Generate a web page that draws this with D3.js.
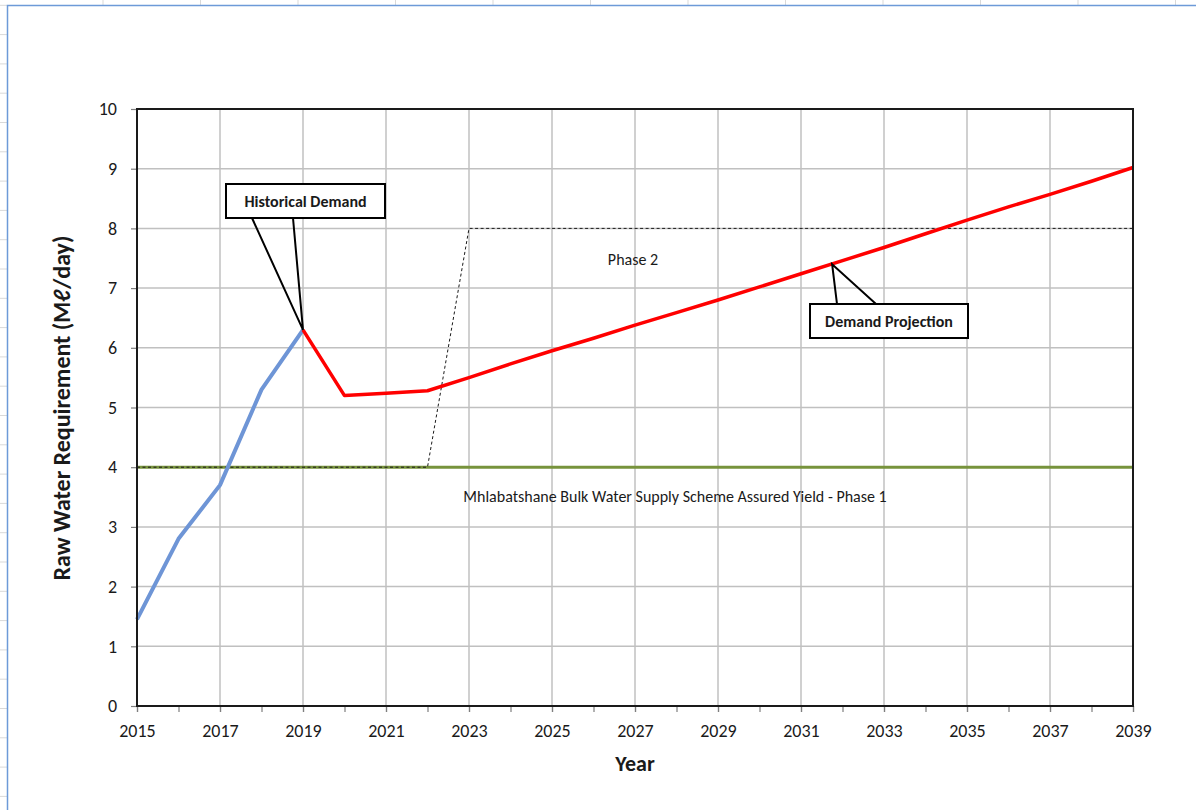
<!DOCTYPE html>
<html>
<head>
<meta charset="utf-8">
<script src="https://cdn.jsdelivr.net/npm/d3@7/dist/d3.min.js"></script>
<style>
  body { margin: 0; background: #fff; }
  svg text { font-family: Calibri, Carlito, "Open Sans", "Liberation Sans", sans-serif; }
</style>
</head>
<body>
<svg id="chart" width="1196" height="810"></svg>
<script>
// ---------- data ----------
const historicalYears = [2015, 2016, 2017, 2018, 2019];
const historicalDemand = [1.45, 2.8, 3.7, 5.3, 6.3];

const projectionYears = [2019, 2020, 2021, 2022, 2023, 2024, 2025, 2026, 2027, 2028, 2029, 2030, 2031, 2032, 2033, 2034, 2035, 2036, 2037, 2038, 2039];
const projectionDemand = [6.3, 5.2, 5.24, 5.28, 5.5, 5.73, 5.95, 6.16, 6.38, 6.59, 6.8, 7.02, 7.24, 7.46, 7.68, 7.91, 8.14, 8.36, 8.57, 8.79, 9.02];

const phase1Years = [2015, 2039];
const phase1Yield = [4, 4];

const capacityYears = [2015, 2022, 2023, 2039];
const capacityValues = [4, 4, 8, 8];

const xTickLabels = ["2015", "2017", "2019", "2021", "2023", "2025", "2027", "2029", "2031", "2033", "2035", "2037", "2039"];
const yTickLabels = ["0", "1", "2", "3", "4", "5", "6", "7", "8", "9", "10"];

// ---------- layout ----------
const svg = d3.select("#chart");
const W = 1196, H = 810;
const plot = { left: 137, right: 1133, top: 109, bottom: 706 };

// spreadsheet background
const bg = svg.append("g");
const rowYs = d3.range(-24, H, 29.3);
bg.selectAll("line.row").data(rowYs).join("line")
  .attr("x1", 0).attr("x2", 7).attr("y1", d => d).attr("y2", d => d)
  .attr("stroke", "#d9d9d9").attr("stroke-width", 1);
const colXs = d3.range(103, W, 97.5);
bg.selectAll("line.col").data(colXs).join("line")
  .attr("x1", d => d).attr("x2", d => d).attr("y1", 0).attr("y2", 5)
  .attr("stroke", "#d9d9d9").attr("stroke-width", 1);
// chart area border
svg.append("path")
  .attr("d", `M7.5,${H} V5.5 H${W}`)
  .attr("fill", "none").attr("stroke", "#6d9ad8").attr("stroke-width", 1.5);

const x = d3.scaleLinear().domain([2015, 2039]).range([plot.left, plot.right]);
const y = d3.scaleLinear().domain([0, 10]).range([plot.bottom, plot.top]);

// gridlines
const grid = svg.append("g");
grid.selectAll("line.vg").data(xTickLabels.map(Number)).join("line")
  .attr("x1", d => x(d)).attr("x2", d => x(d))
  .attr("y1", plot.top).attr("y2", plot.bottom)
  .attr("stroke", "#c0c0c0").attr("stroke-width", 1.5);
grid.selectAll("line.hg").data(yTickLabels.map(Number)).join("line")
  .attr("x1", plot.left).attr("x2", plot.right)
  .attr("y1", d => y(d)).attr("y2", d => y(d))
  .attr("stroke", "#c0c0c0").attr("stroke-width", 1.5);

// axes
const xAxisMinor = d3.axisBottom(x).tickValues(d3.range(2015, 2040)).tickSize(6).tickFormat("");
const xAxis = d3.axisBottom(x).tickValues(xTickLabels.map(Number)).tickSize(6).tickPadding(12).tickFormat((d, i) => xTickLabels[i]);
const yAxis = d3.axisLeft(y).tickValues(yTickLabels.map(Number)).tickSize(6).tickPadding(14).tickFormat((d, i) => yTickLabels[i]);

function styleAxis(g) {
  g.select(".domain").remove();
  g.selectAll(".tick line").attr("stroke", "#7f7f7f").attr("stroke-width", 1.2);
  g.selectAll(".tick text").attr("font-size", 18).attr("fill", "#1a1a1a");
}
svg.append("g").attr("transform", `translate(0,${plot.bottom})`).call(xAxisMinor).call(styleAxis);
svg.append("g").attr("transform", `translate(0,${plot.bottom})`).call(xAxis).call(styleAxis);
svg.append("g").attr("transform", `translate(${plot.left},0)`).call(yAxis).call(styleAxis);

// series
const line = d3.line().x(d => x(d[0])).y(d => y(d[1]));

svg.append("path")
  .datum(phase1Years.map((d, i) => [d, phase1Yield[i]]))
  .attr("d", line).attr("fill", "none").attr("stroke", "#77933c").attr("stroke-width", 3);

svg.append("path")
  .datum(capacityYears.map((d, i) => [d, capacityValues[i]]))
  .attr("d", line).attr("fill", "none").attr("stroke", "#1a1a1a").attr("stroke-width", 1)
  .attr("stroke-dasharray", "3,2.5");

svg.append("path")
  .datum(historicalYears.map((d, i) => [d, historicalDemand[i]]))
  .attr("d", line).attr("fill", "none").attr("stroke", "#6e95d6").attr("stroke-width", 4)
  .attr("stroke-linejoin", "round");

svg.append("path")
  .datum(projectionYears.map((d, i) => [d, projectionDemand[i]]))
  .attr("d", line).attr("fill", "none").attr("stroke", "#ff0000").attr("stroke-width", 3.5)
  .attr("stroke-linejoin", "round");

// plot border
svg.append("rect")
  .attr("x", plot.left).attr("y", plot.top)
  .attr("width", plot.right - plot.left).attr("height", plot.bottom - plot.top)
  .attr("fill", "none").attr("stroke", "#1a1a1a").attr("stroke-width", 2);

// text labels
svg.append("text").attr("x", 633).attr("y", 265)
  .attr("text-anchor", "middle").attr("font-size", 16).attr("fill", "#1a1a1a").text("Phase 2");
svg.append("text").attr("x", 675).attr("y", 502)
  .attr("text-anchor", "middle").attr("font-size", 16).attr("fill", "#1a1a1a")
  .text("Mhlabatshane Bulk Water Supply Scheme Assured Yield - Phase 1");

// callouts
function callout(bx, by, bw, bh, p1, p2, tip, label) {
  const g = svg.append("g");
  g.append("path")
    .attr("d", `M${p1[0]},${p1[1]} L${tip[0]},${tip[1]} L${p2[0]},${p2[1]}`)
    .attr("fill", "none").attr("stroke", "#000").attr("stroke-width", 2);
  g.append("rect").attr("x", bx).attr("y", by).attr("width", bw).attr("height", bh)
    .attr("fill", "#fff").attr("stroke", "#000").attr("stroke-width", 2);
  g.append("text").attr("x", bx + bw / 2).attr("y", by + bh / 2 + 6)
    .attr("text-anchor", "middle").attr("font-size", 16).attr("font-weight", "bold")
    .attr("fill", "#1a1a1a").text(label);
}
const histTip = [x(2019), y(historicalDemand[4])];
callout(226, 184, 159, 34, [252, 218], [293, 218], histTip, "Historical Demand");
const projTip = [x(2031.75), y(7.4)];
callout(810, 304, 158, 34, [837, 304], [876, 304], projTip, "Demand Projection");

// axis titles
svg.append("text").attr("x", 635).attr("y", 771)
  .attr("text-anchor", "middle").attr("font-size", 22).attr("font-weight", "bold")
  .attr("fill", "#1a1a1a").text("Year");
svg.append("text")
  .attr("transform", `translate(70,408) rotate(-90)`)
  .attr("text-anchor", "middle").attr("font-size", 24).attr("font-weight", "bold")
  .attr("fill", "#1a1a1a").text("Raw Water Requirement (Mℓ/day)");
</script>
</body>
</html>
